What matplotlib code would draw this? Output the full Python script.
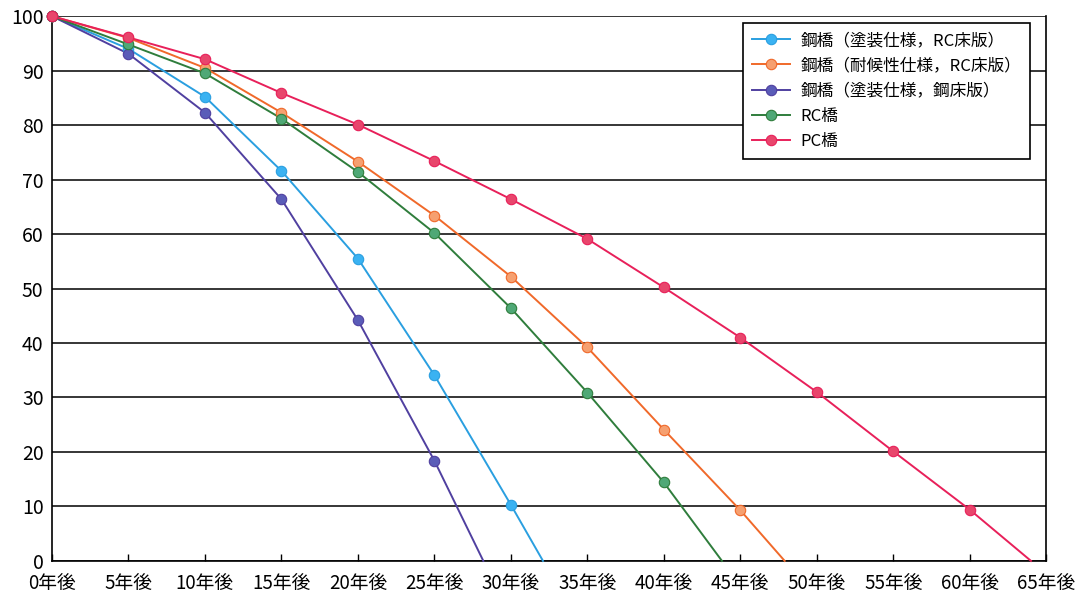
import matplotlib
matplotlib.use("Agg")
import matplotlib.pyplot as plt

plt.rcParams['font.family'] = ['Noto Sans CJK JP', 'DejaVu Sans']

# 経過年数 (5年刻み) と各橋種の健全度
years = [0, 5, 10, 15, 20, 25, 30, 35, 40, 45, 50, 55, 60]
tick_years = [0, 5, 10, 15, 20, 25, 30, 35, 40, 45, 50, 55, 60, 65]

names = ["鋼橋（塗装仕様，RC床版）", "鋼橋（耐候性仕様，RC床版）",
         "鋼橋（塗装仕様，鋼床版）", "RC橋", "PC橋"]

steel_paint_rc = [100, 94.0, 85.2, 71.6, 55.5, 34.1, 10.3]
steel_weather_rc = [100, 96.0, 90.5, 82.3, 73.3, 63.4, 52.2, 39.2, 24.1, 9.3]
steel_paint_steel = [100, 93.1, 82.3, 66.4, 44.2, 18.4]
rc_bridge = [100, 94.8, 89.5, 81.2, 71.4, 60.2, 46.4, 30.9, 14.4]
pc_bridge = [100, 96.1, 92.1, 85.9, 80.1, 73.4, 66.4, 59.1, 50.2, 41.0, 31.0, 20.1, 9.4]

# 0 になる年
zero_years = [32.1, 47.9, 28.2, 43.8, 64.0]

series = [steel_paint_rc, steel_weather_rc, steel_paint_steel, rc_bridge, pc_bridge]
line_colors = ["#2A9FE0", "#F0692A", "#5040A0", "#2F7D3C", "#E8205A"]
marker_colors = ["#3AB2F2", "#F6A070", "#5A5CB8", "#4FA876", "#E8466C"]

fig = plt.figure(figsize=(10.82, 5.98), dpi=100)
ax = fig.add_axes([0.048, 0.062, 0.919, 0.911])

for name, vals, z, lc, mc in zip(names, series, zero_years, line_colors, marker_colors):
    xs = years[:len(vals)]
    ax.plot(xs + [z], vals + [0], color=lc, lw=1.4, zorder=3, clip_on=False)
    ax.plot(xs, vals, ls='none', marker='o', ms=7.5, mfc=mc, mec=lc, mew=0.8,
            zorder=4, clip_on=False)
    # legend proxy
    ax.plot([], [], color=lc, lw=1.4, marker='o', ms=7.5, mfc=mc, mec=lc, mew=0.8,
            label=name)

ax.set_xlim(0, 65)
ax.set_ylim(0, 100)
ax.set_yticks(range(0, 101, 10))
ax.set_xticks(tick_years)
ax.set_xticklabels([f"{y}年後" for y in tick_years], fontsize=13.5)
ax.tick_params(axis='y', length=0, labelsize=14, pad=6)
ax.tick_params(axis='x', direction='in', length=5, width=1, pad=9)
ax.grid(axis='y', color='black', lw=1.1)
ax.set_axisbelow(True)
for s in ax.spines.values():
    s.set_color('black')
    s.set_linewidth(1.2)
ax.spines['top'].set_visible(False)

leg = ax.legend(loc='upper right', bbox_to_anchor=(0.984, 0.988), borderaxespad=0,
                fontsize=12, frameon=True, fancybox=False, edgecolor='black',
                framealpha=1, handlelength=2.3, handletextpad=0.6,
                borderpad=0.55, labelspacing=0.5)
leg.get_frame().set_linewidth(1.2)

fig.savefig("out.png", dpi=100)
